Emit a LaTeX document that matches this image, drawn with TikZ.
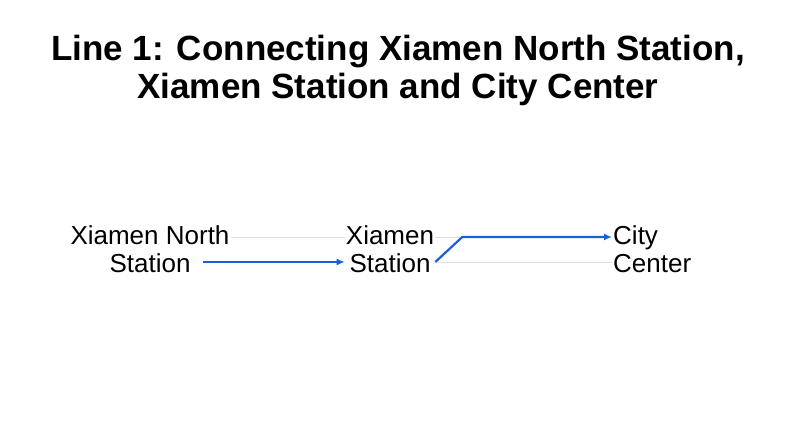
\documentclass[tikz,border=0pt]{standalone}
\usepackage{fontspec}
\setmainfont{Liberation Sans}
\usetikzlibrary{arrows.meta}
\definecolor{lineblue}{HTML}{1A5FD8}
\begin{document}
\begin{tikzpicture}[x=1pt,y=-1pt,
    stop/.style={align=center,font=\fontsize{26}{28}\selectfont,inner sep=1pt},
    guide/.style={draw=black!12,line width=0.6pt},
    line1/.style={draw=lineblue,line width=2.2pt,-{Latex[length=8pt,width=7pt]}}]
\useasboundingbox (0,0) rectangle (797,445);
\node[font=\bfseries\fontsize{35}{38}\selectfont,align=center] (title) at (398,70)
    {Line 1: Connecting Xiamen North Station,\\Xiamen Station and City Center};
\node[stop] (north) at (150,249) {Xiamen North\\Station};
\node[stop] (xiamen) at (390,249) {Xiamen\\Station};
\node[stop,align=left,anchor=west] (city) at (612,249) {City\\Center};
% faint guides
\draw[guide] ([yshift=12pt]north.east) -- ([yshift=12pt]xiamen.west);
\draw[guide] ([yshift=12pt]xiamen.east) -- +(25,0);
\draw[guide] ([yshift=-13pt]xiamen.east) -- ([yshift=-13pt]city.west);
% line 1
\draw[line1] ([yshift=-13pt]north.east) ++(-28,0) coordinate (n0) -- ([yshift=-13pt]xiamen.west);
\draw[line1] ([yshift=-13pt]xiamen.east) -- ++(27,-25) coordinate (bend) -- ([yshift=12pt]city.west);
\end{tikzpicture}
\end{document}
